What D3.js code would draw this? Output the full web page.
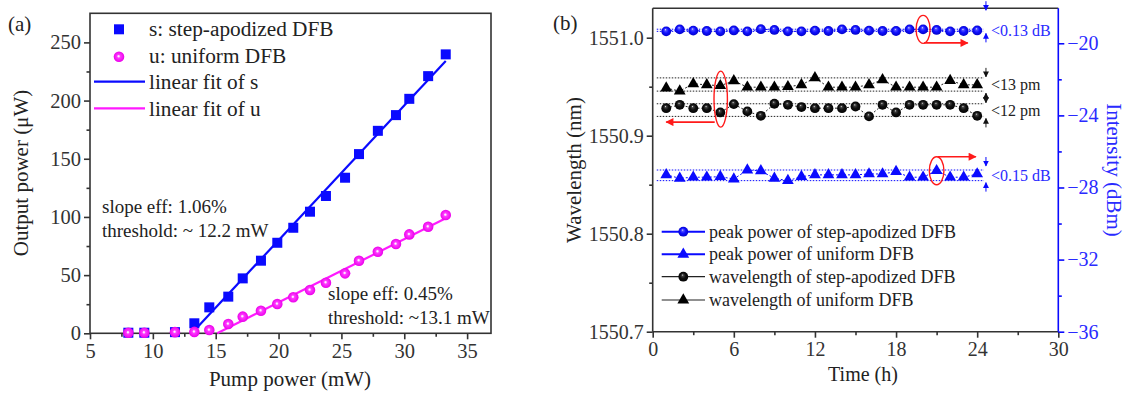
<!doctype html>
<html>
<head>
<meta charset="utf-8">
<title>DFB laser output and stability</title>
<style>
  body { margin: 0; background: #fff; }
  svg text { font-family: "Liberation Serif", "Times New Roman", serif; }
</style>
</head>
<body>
<svg id="chart" width="1127" height="395"></svg>
<script src="https://cdn.jsdelivr.net/npm/d3@7"></script>
<script>
// ---- panel (a): output power vs pump power ----
var pumpS  = [8.05, 9.32, 11.76, 13.3, 14.49, 16.0, 17.15, 18.6, 19.9, 21.17, 22.5, 23.77, 25.29, 26.4, 27.9, 29.34, 30.4, 31.9, 33.3];
var powerS = [0.5, 0.5, 1.0, 8.6, 22.3, 31.5, 47.2, 62.4, 77.8, 90.7, 104.5, 118, 133.7, 154, 174, 187.5, 201.5, 221, 239.7];
var pumpU  = [8.05, 9.32, 11.76, 13.3, 14.49, 16.0, 17.15, 18.6, 19.9, 21.17, 22.5, 23.77, 25.29, 26.4, 27.9, 29.34, 30.4, 31.9, 33.3];
var powerU = [0.5, 0.5, 1.0, 1.2, 2.8, 8.0, 14.3, 19.4, 25.2, 31.0, 37.2, 43.5, 51.5, 62.4, 70.1, 76.7, 85.0, 91.6, 101.6];
var pumpTicks = [5, 10, 15, 20, 25, 30, 35];
var outTicks = [0, 50, 100, 150, 200, 250];
var legendA = ["s: step-apodized DFB", "u: uniform DFB", "linear fit of s", "linear fit of u"];

// ---- panel (b): stability over 24 h ----
var hours = d3.range(1, 25);
var peakS = [-19.34, -19.23, -19.30, -19.32, -19.34, -19.29, -19.34, -19.22, -19.26, -19.34, -19.34, -19.30,
             -19.32, -19.23, -19.26, -19.30, -19.32, -19.32, -19.23, -19.23, -19.26, -19.34, -19.32, -19.29];
var peakU = [-27.30, -27.49, -27.43, -27.43, -27.40, -27.53, -27.03, -27.08, -27.49, -27.62, -27.40, -27.30,
             -27.30, -27.30, -27.30, -27.25, -27.25, -27.12, -27.43, -27.43, -27.07, -27.43, -27.43, -27.25];
var waveS = [1550.9281, 1550.9315, 1550.9281, 1550.9281, 1550.9237, 1550.9322, 1550.9248, 1550.9203, 1550.9326, 1550.9315, 1550.9292, 1550.9281,
             1550.9281, 1550.9281, 1550.9298, 1550.9197, 1550.9315, 1550.9237, 1550.9315, 1550.9315, 1550.9315, 1550.9315, 1550.9281, 1550.9203];
var waveU = [1550.9485, 1550.9455, 1550.9530, 1550.9519, 1550.9510, 1550.9560, 1550.9495, 1550.9495, 1550.9495, 1550.9500, 1550.9519, 1550.9590,
             1550.9495, 1550.9495, 1550.9495, 1550.9519, 1550.9570, 1550.9495, 1550.9495, 1550.9495, 1550.9495, 1550.9563, 1550.9519, 1550.9519];
var timeTicks = [0, 6, 12, 18, 24, 30];
var waveTicks = [1550.7, 1550.8, 1550.9, 1551.0];
var intTicks = [-36, -32, -28, -24, -20];
var legendB = ["peak power of step-apodized DFB", "peak power of uniform DFB", "wavelength of step-apodized DFB", "wavelength of uniform DFB"];

var BLUE = "#0a0aff", MAG = "#ff1aff", AX = "#333", RED = "#ff1a1a", TXTBLUE = "#2a2aff";

var svg = d3.select("#chart");
var defs = svg.append("defs");

function sphere(id, stops) {
  var g = defs.append("radialGradient").attr("id", id).attr("cx", "0.5").attr("cy", "0.5").attr("r", "0.55").attr("fx", "0.42").attr("fy", "0.32");
  stops.forEach(function(s){ g.append("stop").attr("offset", s[0]).attr("stop-color", s[1]); });
}
sphere("gBlue", [[0, "#e8e8ff"], [0.18, "#5050ff"], [0.5, "#1010ff"], [1, "#0000c0"]]);
sphere("gBlack", [[0, "#e0e0e0"], [0.18, "#404040"], [0.5, "#101010"], [1, "#000"]]);
var gm = defs.append("radialGradient").attr("id", "gMag").attr("cx", "0.5").attr("cy", "0.5").attr("r", "0.5").attr("fx", "0.45").attr("fy", "0.45");
[[0, "#ffffff"], [0.14, "#ffd8ff"], [0.32, "#ff3cff"], [1, "#ea00ea"]].forEach(function(s){ gm.append("stop").attr("offset", s[0]).attr("stop-color", s[1]); });

function arrowDef(id, color, w, h) {
  defs.append("marker").attr("id", id).attr("viewBox", "0 0 10 10").attr("refX", 9).attr("refY", 5)
    .attr("markerWidth", w).attr("markerHeight", h).attr("markerUnits", "userSpaceOnUse").attr("orient", "auto")
    .append("path").attr("d", "M0,0L10,5L0,10z").attr("fill", color);
}
arrowDef("arRed", RED, 14, 8);
arrowDef("arBlk", "#111", 6, 6);
arrowDef("arBlu", BLUE, 6, 6);

function styleAxis(g, color, size) {
  g.selectAll("path, line").attr("stroke", color).attr("stroke-width", 1.6);
  g.selectAll("text").attr("fill", color).attr("font-size", size).attr("font-family", "Liberation Serif, serif");
}

// ================= panel (a) =================
var xA = d3.scaleLinear().domain([5, 36.9]).range([90, 491]);
var yA = d3.scaleLinear().domain([0, 275]).range([333.3, 13.3]);

var gA = svg.append("g");
gA.append("rect").attr("x", 90).attr("y", 13.3).attr("width", 401).attr("height", 320)
  .attr("fill", "none").attr("stroke", AX).attr("stroke-width", 1.6);

var axA1 = gA.append("g").attr("transform", "translate(0,333.3)")
  .call(d3.axisBottom(xA).tickValues(pumpTicks).tickSize(6).tickPadding(4).tickSizeOuter(0));
gA.append("g").attr("transform", "translate(0,333.3)")
  .call(d3.axisBottom(xA).tickValues(d3.range(7.5, 35, 5)).tickSize(3.5).tickFormat("").tickSizeOuter(0))
  .call(function(g){ styleAxis(g, AX, 20); });
styleAxis(axA1, AX, 20.5);
var ayA1 = gA.append("g").attr("transform", "translate(90,0)")
  .call(d3.axisLeft(yA).tickValues(outTicks).tickSize(6).tickPadding(3).tickSizeOuter(0));
styleAxis(ayA1, AX, 20.5);
gA.append("g").attr("transform", "translate(90,0)")
  .call(d3.axisLeft(yA).tickValues(d3.range(25, 275, 50)).tickSize(3.5).tickFormat("").tickSizeOuter(0))
  .call(function(g){ styleAxis(g, AX, 20); });
gA.selectAll(".domain").remove();

gA.append("text").attr("x", 290).attr("y", 386).attr("text-anchor", "middle").attr("font-size", 21).attr("fill", "#222").text("Pump power (mW)");
gA.append("text").attr("transform", "translate(28,173) rotate(-90)").attr("text-anchor", "middle").attr("font-size", 21).attr("fill", "#222").text("Output power (\u03bcW)");
gA.append("text").attr("x", 8).attr("y", 31).attr("font-size", 21).attr("fill", "#222").text("(a)");

// linear fits from the data above threshold
function fit(xs, ys) {
  var px = [], py = [];
  xs.forEach(function(x, i){ if (ys[i] > 5) { px.push(x); py.push(ys[i]); } });
  var mx = d3.mean(px), my = d3.mean(py);
  var b = d3.sum(px, function(x, i){ return (x - mx) * (py[i] - my); }) / d3.sum(px, function(x){ return (x - mx) * (x - mx); });
  var a = my - b * mx;
  var x0 = -a / b, x1 = d3.max(px);
  return [[x0, 0], [x1, a + b * x1]];
}
var lineA = d3.line().x(function(d){ return xA(d[0]); }).y(function(d){ return yA(d[1]); });
gA.append("path").attr("d", lineA(fit(pumpS, powerS))).attr("stroke", BLUE).attr("stroke-width", 2.2).attr("fill", "none");
gA.append("path").attr("d", lineA(fit(pumpU, powerU))).attr("stroke", MAG).attr("stroke-width", 2.2).attr("fill", "none");

gA.selectAll(".sq").data(d3.zip(pumpS, powerS)).enter().append("rect")
  .attr("x", function(d){ return xA(d[0]) - 5; }).attr("y", function(d){ return yA(d[1]) - 5; })
  .attr("width", 10).attr("height", 10).attr("fill", BLUE);
gA.selectAll(".ci").data(d3.zip(pumpU, powerU)).enter().append("circle")
  .attr("cx", function(d){ return xA(d[0]); }).attr("cy", function(d){ return yA(d[1]); })
  .attr("r", 5.3).attr("fill", "url(#gMag)");

// legend (a)
var legA = gA.append("g");
legA.append("rect").attr("x", 114).attr("y", 24.3).attr("width", 10).attr("height", 10).attr("fill", BLUE);
legA.append("circle").attr("cx", 119).attr("cy", 56.7).attr("r", 5.3).attr("fill", "url(#gMag)");
legA.append("line").attr("x1", 94).attr("x2", 145).attr("y1", 81.7).attr("y2", 81.7).attr("stroke", BLUE).attr("stroke-width", 2.2);
legA.append("line").attr("x1", 94).attr("x2", 145).attr("y1", 108.3).attr("y2", 108.3).attr("stroke", MAG).attr("stroke-width", 2.2);
legendA.forEach(function(t, i){
  legA.append("text").attr("x", 149).attr("y", 36 + i * 26.6).attr("font-size", 21.3).attr("fill", "#222").text(t);
});

gA.append("text").attr("x", 102).attr("y", 213).attr("font-size", 19).attr("fill", "#222").text("slope eff: 1.06%");
gA.append("text").attr("x", 102).attr("y", 237).attr("font-size", 19).attr("fill", "#222").text("threshold: ~ 12.2 mW");
gA.append("text").attr("x", 328).attr("y", 300).attr("font-size", 19).attr("fill", "#222").text("slope eff: 0.45%");
gA.append("text").attr("x", 328).attr("y", 323.5).attr("font-size", 19).attr("fill", "#222").text("threshold: ~13.1 mW");

// ================= panel (b) =================
var xB = d3.scaleLinear().domain([0, 30]).range([652.7, 1058.3]);
var yB = d3.scaleLinear().domain([1550.7, 1551.03]).range([331.7, 8.3]);
var yB2 = d3.scaleLinear().domain([-36, -18.06]).range([331.7, 8.3]);

var gB = svg.append("g");
gB.append("line").attr("x1", 652.7).attr("x2", 1058.3).attr("y1", 8.3).attr("y2", 8.3).attr("stroke", AX).attr("stroke-width", 1.6);
var axB = gB.append("g").attr("transform", "translate(0,331.7)")
  .call(d3.axisBottom(xB).tickValues(timeTicks).tickSize(6).tickPadding(4).tickSizeOuter(0));
styleAxis(axB, AX, 20);
gB.append("g").attr("transform", "translate(0,331.7)")
  .call(d3.axisBottom(xB).tickValues(d3.range(3, 30, 6)).tickSize(3.5).tickFormat("").tickSizeOuter(0))
  .call(function(g){ styleAxis(g, AX, 20); });
var ayB = gB.append("g").attr("transform", "translate(652.7,0)")
  .call(d3.axisLeft(yB).tickValues(waveTicks).tickSize(6).tickPadding(3).tickFormat(d3.format(".1f")).tickSizeOuter(0));
styleAxis(ayB, AX, 20);
gB.append("g").attr("transform", "translate(652.7,0)")
  .call(d3.axisLeft(yB).tickValues([1550.75, 1550.85, 1550.95]).tickSize(3.5).tickFormat("").tickSizeOuter(0))
  .call(function(g){ styleAxis(g, AX, 20); });
var ayB2 = gB.append("g").attr("transform", "translate(1058.3,0)")
  .call(d3.axisRight(yB2).tickValues(intTicks).tickSize(6).tickPadding(3).tickSizeOuter(0));
styleAxis(ayB2, BLUE, 20);
ayB2.selectAll("text").attr("fill", TXTBLUE);
gB.append("g").attr("transform", "translate(1058.3,0)")
  .call(d3.axisRight(yB2).tickValues([-34, -30, -26, -22]).tickSize(3.5).tickFormat("").tickSizeOuter(0))
  .call(function(g){ styleAxis(g, BLUE, 20); });
// left, bottom, right axis lines
gB.selectAll(".domain").remove();
gB.append("line").attr("x1", 652.7).attr("x2", 652.7).attr("y1", 8.3).attr("y2", 331.7).attr("stroke", AX).attr("stroke-width", 1.6);
gB.append("line").attr("x1", 652.7).attr("x2", 1058.3).attr("y1", 331.7).attr("y2", 331.7).attr("stroke", AX).attr("stroke-width", 1.6);
gB.append("line").attr("x1", 1058.3).attr("x2", 1058.3).attr("y1", 8.3).attr("y2", 331.7).attr("stroke", BLUE).attr("stroke-width", 1.6);

gB.append("text").attr("x", 863).attr("y", 381).attr("text-anchor", "middle").attr("font-size", 20).attr("fill", "#222").text("Time (h)");
gB.append("text").attr("transform", "translate(581,170) rotate(-90)").attr("text-anchor", "middle").attr("font-size", 21).attr("fill", "#222").text("Wavelength (nm)");
gB.append("text").attr("transform", "translate(1107,170) rotate(90)").attr("text-anchor", "middle").attr("font-size", 21).attr("fill", TXTBLUE).text("Intensity (dBm)");
gB.append("text").attr("x", 553).attr("y", 30).attr("font-size", 21).attr("fill", "#222").text("(b)");

// series
var series = [
  { v: peakS, y: yB2, color: BLUE, mark: "circle", fill: "url(#gBlue)", lab: "<0.13 dB", arr: "arBlu", topGap: 19 },
  { v: peakU, y: yB2, color: BLUE, mark: "tri", fill: BLUE, lab: "<0.15 dB", arr: "arBlu", topGap: 4 },
  { v: waveS, y: yB, color: "#222", mark: "circle", fill: "url(#gBlack)", lab: "<12 pm", arr: "arBlk", topGap: 1 },
  { v: waveU, y: yB, color: "#222", mark: "tri", fill: "#000", lab: "<13 pm", arr: "arBlk", topGap: 1 }
];
var tri = d3.symbol().type(d3.symbolTriangle).size(60);
var ax = xB(24.65);

series.forEach(function(s){
  var pts = d3.zip(hours, s.v);
  var lo = d3.min(s.v), hi = d3.max(s.v);
  var yTop = s.y(hi), yBot = s.y(lo);
  // range guide lines
  [yTop, yBot].forEach(function(yy){
    gB.append("line").attr("x1", xB(0.3)).attr("x2", xB(24.5)).attr("y1", yy).attr("y2", yy)
      .attr("stroke", s.color).attr("stroke-width", 1).attr("stroke-dasharray", "1.5,1.5");
  });
  // connecting line
  gB.append("path").attr("d", d3.line().x(function(d){ return xB(d[0]); }).y(function(d){ return s.y(d[1]); })(pts))
    .attr("fill", "none").attr("stroke", s.color).attr("stroke-width", 1).attr("stroke-dasharray", "2,2");
  // markers
  if (s.mark === "circle") {
    gB.selectAll(null).data(pts).enter().append("circle")
      .attr("cx", function(d){ return xB(d[0]); }).attr("cy", function(d){ return s.y(d[1]); })
      .attr("r", 4.9).attr("fill", s.fill);
  } else {
    gB.selectAll(null).data(pts).enter().append("path").attr("d", tri)
      .attr("transform", function(d){ return "translate(" + xB(d[0]) + "," + s.y(d[1]) + ")"; })
      .attr("fill", s.fill);
  }
  // range arrows and label
  gB.append("line").attr("x1", ax).attr("x2", ax).attr("y1", yTop - s.topGap - 9).attr("y2", yTop - s.topGap)
    .attr("stroke", s.color).attr("stroke-width", 1).attr("marker-end", "url(#" + s.arr + ")");
  gB.append("line").attr("x1", ax).attr("x2", ax).attr("y1", yBot + 11).attr("y2", yBot + 2)
    .attr("stroke", s.color).attr("stroke-width", 1).attr("marker-end", "url(#" + s.arr + ")");
  gB.append("text").attr("x", ax + 5).attr("y", (yTop + yBot) / 2).attr("dy", "0.35em")
    .attr("font-size", 16).attr("fill", s.color === BLUE ? TXTBLUE : "#222").text(s.lab);
});

// red markers: which axis each curve belongs to
function callout(t, yy, rx, ry, ax0, ay, ax1) {
  var cx = xB(t);
  gB.append("ellipse").attr("cx", cx).attr("cy", yy).attr("rx", rx).attr("ry", ry)
    .attr("fill", "none").attr("stroke", RED).attr("stroke-width", 1.4);
  gB.append("line").attr("x1", cx + ax0).attr("x2", xB(ax1)).attr("y1", yy + ay).attr("y2", yy + ay)
    .attr("stroke", RED).attr("stroke-width", 1.6).attr("marker-end", "url(#arRed)");
}
callout(20, yB2(peakS[19]), 7, 14, 1, 13.5, 23.3);
callout(5.03, (yB(waveU[4]) + yB(waveS[4])) / 2, 6.7, 28, -6, 23, 1.0);
callout(21, yB2(peakU[20]), 7.3, 14, 1, -14, 23.9);

// legend (b)
var legB = gB.append("g");
var legRows = [231.7, 254.3, 276.7, 300];
legRows.forEach(function(yy, i){
  var s = series[i];
  legB.append("line").attr("x1", 661.7).attr("x2", 705).attr("y1", yy).attr("y2", yy)
    .attr("stroke", s.color === BLUE ? BLUE : "#222").attr("stroke-width", s.color === BLUE ? 2 : 1.2);
  if (s.mark === "circle") {
    legB.append("circle").attr("cx", 683.3).attr("cy", yy).attr("r", 4.9).attr("fill", s.fill);
  } else {
    legB.append("path").attr("d", tri).attr("transform", "translate(683.3," + yy + ")").attr("fill", s.fill);
  }
  legB.append("text").attr("x", 709).attr("y", yy).attr("dy", "0.33em").attr("font-size", 18).attr("fill", "#222").text(legendB[i]);
});
</script>
</body>
</html>
